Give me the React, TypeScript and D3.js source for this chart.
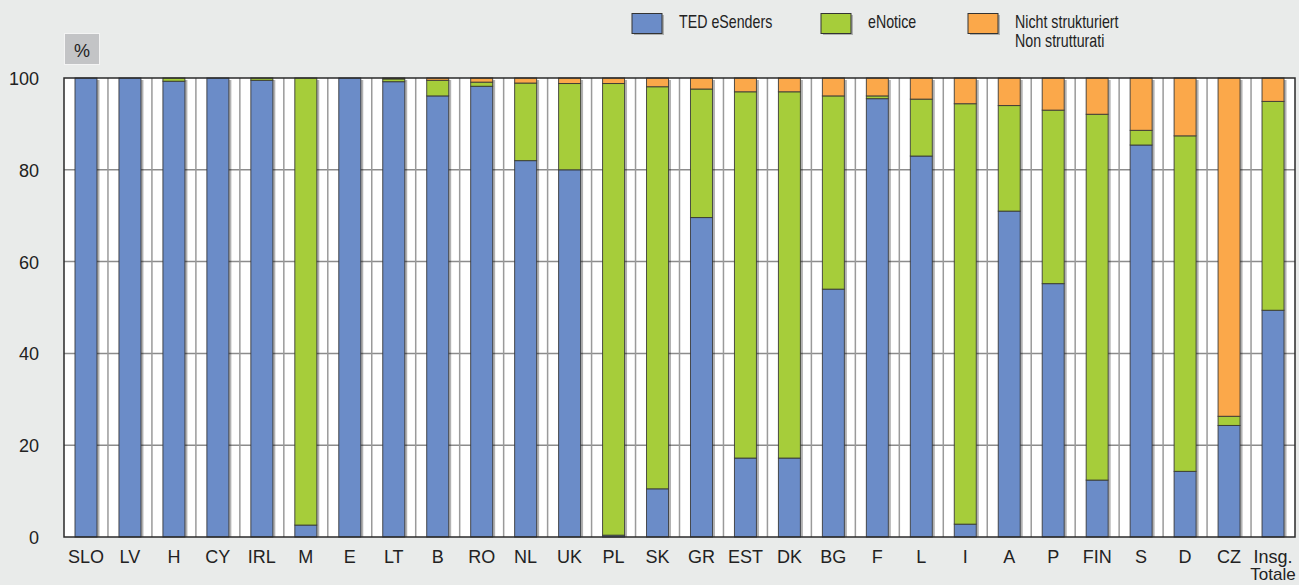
import * as d3 from "d3";

const categories = ["SLO", "LV", "H", "CY", "IRL", "M", "E", "LT", "B", "RO", "NL", "UK", "PL", "SK", "GR", "EST", "DK", "BG", "F", "L", "I", "A", "P", "FIN", "S", "D", "CZ", "Insg.|Totale"];
const tedESenders = [100, 100, 99.3, 100, 99.5, 2.6, 100, 99.2, 96.1, 98.2, 82.0, 80.0, 0.4, 10.5, 69.6, 17.2, 17.2, 54.0, 95.5, 83.0, 2.8, 71.0, 55.2, 12.4, 85.4, 14.3, 24.3, 49.4];
const eNotice = [0, 0, 0.7, 0, 0.5, 97.4, 0, 0.6, 3.4, 0.9, 16.9, 18.8, 98.4, 87.6, 28.0, 79.8, 79.8, 42.1, 0.6, 12.4, 91.6, 23.0, 37.8, 79.7, 3.2, 73.1, 2.0, 45.5];
const nichtStrukturiert = [0, 0, 0, 0, 0, 0, 0, 0.2, 0.5, 0.9, 1.1, 1.2, 1.2, 1.9, 2.4, 3.0, 3.0, 3.9, 3.9, 4.6, 5.6, 6.0, 7.0, 7.9, 11.4, 12.6, 73.7, 5.1];
const yTicks = [0, 20, 40, 60, 80, 100];

const seriesKeys = ["ted", "enotice", "nicht"];
const colors: Record<string, string> = { ted: "#6b8cc8", enotice: "#a6cd3a", nicht: "#fba84a" };

const width = 1299;
const height = 585;
const plot = { left: 64, right: 1295, top: 78, bottom: 537 };
const font = "'Liberation Sans', Arial, sans-serif";

export default function App() {
  const rows = categories.map((c, i) => ({
    cat: c,
    ted: tedESenders[i],
    enotice: eNotice[i],
    nicht: nichtStrukturiert[i],
  }));
  const stacked = d3.stack<any>().keys(seriesKeys)(rows);

  const x = d3.scaleBand().domain(categories).range([plot.left, plot.right]);
  const y = d3.scaleLinear().domain([0, 100]).range([plot.bottom, plot.top]);
  const bw = x.bandwidth() * 0.5;
  const barX = (c: string) => (x(c) ?? 0) + (x.bandwidth() - bw) / 2;

  return (
    <svg width={width} height={height} style={{ position: "absolute", left: 0, top: 0, background: "#e9ebea" }}>
      <rect x={0} y={0} width={width} height={height} fill="#e9ebea" />

      {/* legend (condensed text) */}
      {[
        { key: "ted", x: 632, lines: ["TED eSenders"] },
        { key: "enotice", x: 821, lines: ["eNotice"] },
        { key: "nicht", x: 968, lines: ["Nicht strukturiert", "Non strutturati"] },
      ].map((l) => (
        <g key={l.key}>
          <rect x={l.x + 2} y={15} width={30} height={20} fill="#000" opacity={0.25} />
          <rect x={l.x} y={13.5} width={30} height={20} fill={colors[l.key]} stroke="#333" strokeWidth={1} />
          {l.lines.map((t, j) => (
            <text
              key={j}
              transform={`translate(${l.x + 47},${27.5 + j * 19}) scale(0.79,1)`}
              fontFamily={font}
              fontSize={18}
              fill="#222"
            >
              {t}
            </text>
          ))}
        </g>
      ))}

      {/* % box */}
      <rect x={64.5} y={33.5} width={35} height={31} fill="#c3c4c6" stroke="#f4f4f4" strokeWidth={1} />
      <text x={82} y={57} textAnchor="middle" fontFamily={font} fontSize={18} fill="#222">%</text>

      {/* plot background */}
      <rect x={plot.left} y={plot.top} width={plot.right - plot.left} height={plot.bottom - plot.top} fill="#fff" />

      {/* horizontal gridlines */}
      {yTicks.filter((t) => t > 0 && t < 100).map((t) => (
        <line key={t} x1={plot.left} x2={plot.right} y1={y(t)} y2={y(t)} stroke="#8c8c8c" strokeWidth={1.5} />
      ))}

      {/* vertical separators */}
      {categories.slice(1).map((c) => (
        <line key={c} x1={x(c)} x2={x(c)} y1={plot.top} y2={plot.bottom} stroke="#9a9a9a" strokeWidth={1.5} />
      ))}

      {/* bar shadows */}
      {rows.map((r) => {
        const top = y(r.ted + r.enotice + r.nicht);
        return (
          <rect key={r.cat} x={barX(r.cat) + bw} y={top + 2} width={2.5} height={plot.bottom - top - 2} fill="#000" opacity={0.3} />
        );
      })}

      {/* bars */}
      {stacked.map((s) => (
        <g key={s.key} fill={colors[s.key]}>
          {s.map((d, i) =>
            d[1] - d[0] > 0 ? (
              <rect
                key={i}
                x={barX(categories[i])}
                y={y(d[1])}
                width={bw}
                height={y(d[0]) - y(d[1])}
                stroke="#333"
                strokeWidth={1}
                strokeOpacity={0.85}
              />
            ) : null
          )}
        </g>
      ))}

      {/* frame */}
      <rect x={plot.left} y={plot.top} width={plot.right - plot.left} height={plot.bottom - plot.top} fill="none" stroke="#2a2a2a" strokeWidth={1.5} />

      {/* y labels */}
      {yTicks.map((t) => (
        <text key={t} x={39} y={y(t) + 7} textAnchor="end" fontFamily={font} fontSize={18} fill="#222">
          {t}
        </text>
      ))}

      {/* x labels */}
      {categories.map((c) => (
        <text key={c} x={(x(c) ?? 0) + x.bandwidth() / 2} y={563} textAnchor="middle" fontFamily={font} fontSize={18} fill="#222">
          {c.split("|").map((p, j) => (
            <tspan key={j} x={(x(c) ?? 0) + x.bandwidth() / 2} dy={j === 0 ? 0 : 17} fontSize={j === 0 ? 18 : 17}>
              {p}
            </tspan>
          ))}
        </text>
      ))}
    </svg>
  );
}
